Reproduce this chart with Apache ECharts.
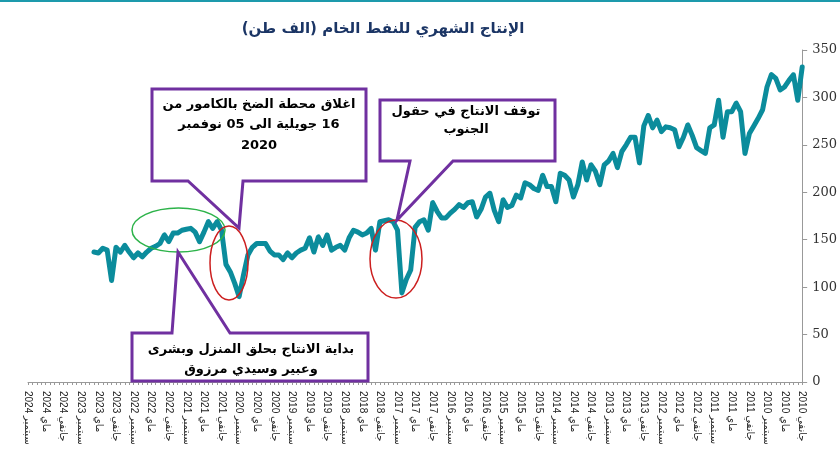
<!DOCTYPE html>
<html>
<head>
<meta charset="utf-8">
<script src="https://cdn.jsdelivr.net/npm/echarts@6/dist/echarts.min.js"></script>
<style>
html,body{margin:0;padding:0;background:#fff;}
#chart{width:840px;height:467px;direction:rtl;}
</style>
</head>
<body>
<div id="chart"></div>
<script>
const monthNames = ['جانفي','فيفري','مارس','أفريل','ماي','جوان','جويلية','أوت','سبتمبر','أكتوبر','نوفمبر','ديسمبر'];
const firstYear = 2010, lastYear = 2024, lastMonth = 8;
const yTicks = {min: 0, max: 350, step: 50};
const titleText = 'الإنتاج الشهري للنفط الخام (الف طن)';
// monthly production, thousand tonnes, from Jan 2010 onward
const production = [
 332,297,324,318,311,308,320,324,311,287,278,270,
 262,241,285,294,285,285,258,297,271,268,241,244,
 247,260,271,258,248,266,268,269,264,276,268,281,
 270,231,258,258,250,243,226,241,233,229,208,222,
 229,213,232,208,195,213,218,220,190,206,206,218,
 202,204,208,210,194,197,186,184,192,169,181,199,
 195,182,174,190,189,184,187,182,178,173,173,180,
 189,160,171,169,163,118,108,94,160,169,171,170,
 169,139,162,157,155,158,160,152,139,144,142,139,
 155,144,153,137,152,141,139,136,131,136,129,134,
 134,138,146,146,146,142,134,113,90,104,116,124,
 160,169,162,169,158,148,158,162,161,160,157,157,
 148,155,146,143,141,137,132,136,131,137,144,137,
 142,107,139,141,136,137
];
const categories = [];
for (let y = firstYear; y <= lastYear; y++) {
  for (let m = 0; m < 12; m++) {
    if (y === lastYear && m > lastMonth) break;
    categories.push(monthNames[m] + ' ' + y);
  }
}
const callout1Lines = ['اغلاق محطة الضخ بالكامور من', '16 جويلية الى 05 نوفمبر', '2020'];
const callout2Lines = ['توقف الانتاج في حقول', 'الجنوب'];
const callout3Lines = ['بداية الانتاج بحلق المنزل وبشرى', 'وعبير وسيدي مرزوق'];

const chart = echarts.init(document.getElementById('chart'), null, {renderer: 'canvas'});
const purple = '#7030A0';
const arFont = 'bold 13px "DejaVu Sans"';
function lines(arr, cx, ys, font) {
  return arr.map((t, k) => ({
    type: 'text', x: cx, y: ys[k], z: 20,
    style: {text: t, font: font || arFont, fill: '#000', align: 'center', verticalAlign: 'middle'}
  }));
}
const option = {
  animation: false,
  backgroundColor: '#fff',
  grid: {left: 28, right: 34, top: 50, bottom: 85, containLabel: false},
  xAxis: {
    type: 'category',
    data: categories,
    inverse: true,
    boundaryGap: false,
    axisLine: {lineStyle: {color: '#999', width: 1}},
    axisTick: {show: true, interval: 0, length: 3, lineStyle: {color: '#999'}},
    axisLabel: {interval: 3, rotate: -90, margin: 9, fontSize: 10, color: '#222',
      fontFamily: '"Liberation Sans", "DejaVu Sans", sans-serif'},
    splitLine: {show: false}
  },
  yAxis: {
    type: 'value',
    position: 'right',
    min: yTicks.min, max: yTicks.max, interval: yTicks.step,
    axisLine: {show: true, lineStyle: {color: '#999'}},
    axisTick: {show: true, length: 5, lineStyle: {color: '#999'}},
    axisLabel: {margin: 10, fontSize: 13, color: '#333', fontFamily: '"DejaVu Serif", serif'},
    splitLine: {show: false}
  },
  series: [{
    type: 'line',
    data: production,
    showSymbol: false,
    symbol: 'none',
    lineStyle: {color: '#0b8c9c', width: 5, join: 'round', cap: 'round'},
    z: 3
  }],
  graphic: [
    {type: 'rect', z: 20, shape: {x: 0, y: 0, width: 840, height: 2}, style: {fill: '#1d9aac'}},
    {type: 'text', x: 383, y: 29, z: 20, style: {text: titleText, font: 'bold 15px "DejaVu Sans"', fill: '#1b3565', align: 'center', verticalAlign: 'middle'}},
    {type: 'ellipse', z: 15, shape: {cx: 178.5, cy: 230, rx: 46.5, ry: 22}, style: {fill: 'none', stroke: '#2db34a', lineWidth: 1.5}},
    {type: 'ellipse', z: 15, shape: {cx: 229, cy: 263, rx: 19, ry: 37}, style: {fill: 'none', stroke: '#cc1f1f', lineWidth: 1.5}},
    {type: 'ellipse', z: 15, shape: {cx: 396, cy: 259, rx: 26, ry: 39}, style: {fill: 'none', stroke: '#cc1f1f', lineWidth: 1.5}},
    {type: 'polygon', z: 16, shape: {points: [[152,89],[366,89],[366,181],[243,181],[239,228],[188,181],[152,181]]}, style: {fill: '#fff', stroke: purple, lineWidth: 3, lineJoin: 'miter'}},
    {type: 'polygon', z: 16, shape: {points: [[380,100],[555,100],[555,161],[453,161],[397,220],[410,161],[380,161]]}, style: {fill: '#fff', stroke: purple, lineWidth: 3}},
    {type: 'polygon', z: 16, shape: {points: [[132,333],[172,333],[178,252],[230,333],[368,333],[368,381],[132,381]]}, style: {fill: '#fff', stroke: purple, lineWidth: 3}},
    ...lines(callout1Lines, 259, [105, 125, 146]),
    ...lines(callout2Lines, 466, [112, 130]),
    ...lines(callout3Lines, 251, [350, 370])
  ]
};
chart.setOption(option);
</script>
</body>
</html>
